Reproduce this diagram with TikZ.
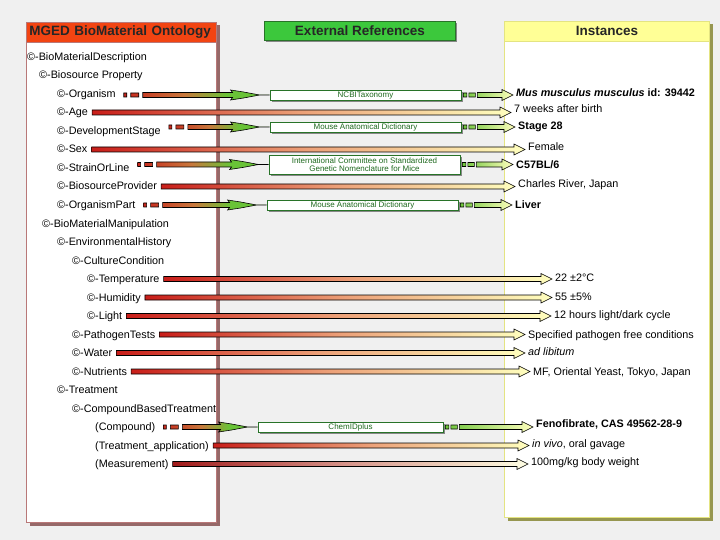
\documentclass[tikz,border=0pt]{standalone}
\usepackage{fontspec}
\setmainfont{Liberation Sans}
\usetikzlibrary{calc, shadows}
\definecolor{pageGrey}{RGB}{240,240,240}
\definecolor{ontoRed}{RGB}{242,68,18}
\definecolor{ontoEdge}{RGB}{185,120,120}
\definecolor{ontoShade}{RGB}{150,105,105}
\definecolor{refGreen}{RGB}{60,200,60}
\definecolor{refEdge}{RGB}{40,115,40}
\definecolor{refText}{RGB}{30,105,30}
\definecolor{instYellow}{RGB}{255,255,150}
\definecolor{instEdge}{RGB}{228,228,130}
\definecolor{instShade}{RGB}{150,150,80}
\definecolor{boxShade}{RGB}{135,135,135}
\definecolor{barRed}{RGB}{200,28,24}
\definecolor{barSalmon}{RGB}{236,160,120}
\definecolor{barPale}{RGB}{255,255,190}
\definecolor{barGreen}{RGB}{105,195,55}
\definecolor{barBrown}{RGB}{200,120,60}
\definecolor{measRed}{RGB}{160,25,25}
\definecolor{measPink}{RGB}{215,150,140}
\definecolor{measPale}{RGB}{255,255,228}
\pgfdeclarehorizontalshading{redtogreen}{100bp}{color(0bp)=(barRed); color(25bp)=(barRed); color(47bp)=(barBrown); color(61bp)=(barGreen); color(100bp)=(barGreen)}

\begin{document}
\begin{tikzpicture}[
    x=1pt, y=-1pt,
    panel/.style={rectangle, draw, fill=white, line width=1pt, anchor=north west, inner sep=0pt},
    header/.style={rectangle, draw, line width=0.8pt, anchor=north west, minimum height=20, inner sep=0pt, font=\fontsize{13.5}{15}\selectfont\bfseries, text=black!85},
    hardshadow/.style={drop shadow={fill=#1, opacity=1, shadow xshift=3pt, shadow yshift=-3pt}},
    extref/.style={rectangle, draw=refEdge, fill=white, line width=0.8pt, minimum width=191, minimum height=10, inner sep=0pt, text height=6pt, text depth=1.2pt, font=\fontsize{8}{8.5}\selectfont, text=refText, drop shadow={fill=boxShade, opacity=1, shadow xshift=2pt, shadow yshift=-2pt}},
    term/.style={anchor=west, inner sep=1pt, text height=8.5pt, text depth=1.5pt, font=\fontsize{10.8}{12}\selectfont},
    inst/.style={term},
    plainbar/.style={line width=0.6pt, draw=black, left color=barRed, right color=barPale, middle color=barSalmon,
        to path={let \p1=(\tikztostart), \p2=(\tikztotarget) in
            (\x1+3pt,\y1-2.5pt) -- (\x2-13pt,\y1-2.5pt) -- (\x2-13pt,\y1-5.5pt) -- (\x2-2pt,\y1)
            -- (\x2-13pt,\y1+5.5pt) -- (\x2-13pt,\y1+2.5pt) -- (\x1+3pt,\y1+2.5pt) -- cycle}},
    refin/.style={line width=0.6pt, draw=black, shade, shading=redtogreen, shading angle=0,
        to path={let \p1=(\tikztostart), \p2=(\tikztotarget) in
            (\x1+7pt,\y2-2pt) rectangle (\x1+10pt,\y2+2pt)
            (\x1+14pt,\y2-2pt) rectangle (\x1+22pt,\y2+2pt)
            (\x1+26pt,\y2-2.5pt) -- (\x2-37pt,\y2-2.5pt) -- (\x2-39pt,\y2-5pt) -- (\x2-26pt,\y2-3pt)
            -- (\x2-10pt,\y2) -- (\x2-26pt,\y2+3pt) -- (\x2-39pt,\y2+5pt) -- (\x2-37pt,\y2+2.5pt)
            -- (\x1+26pt,\y2+2.5pt) -- cycle
            (\x2-10pt,\y2) -- (\x2,\y2)}},
    refout/.style={line width=0.6pt, draw=black, left color=barGreen, right color=barPale,
        to path={let \p1=(\tikztostart), \p2=(\tikztotarget) in
            (\x1+2pt,\y1-2pt) rectangle (\x1+5.5pt,\y1+2pt)
            (\x1+7.5pt,\y1-2pt) rectangle (\x1+14pt,\y1+2pt)
            (\x1+16pt,\y1-2.5pt) -- (\x2-13pt,\y1-2.5pt) -- (\x2-13pt,\y1-5.5pt) -- (\x2-2pt,\y1)
            -- (\x2-13pt,\y1+5.5pt) -- (\x2-13pt,\y1+2.5pt) -- (\x1+16pt,\y1+2.5pt) -- cycle}}
]

\fill[pageGrey] (0,0) rectangle (720,540);
\useasboundingbox (0,0) rectangle (720,540);

% Panels
\node[panel, draw=ontoEdge, minimum width=190, minimum height=500, hardshadow=ontoShade] (ontology) at (26,22) {};
\node[panel, draw=instEdge, minimum width=205, minimum height=496, hardshadow=instShade] (instances) at (504,21) {};
\node[header, fill=ontoRed, draw=ontoEdge, minimum width=190, text width=184, inner xsep=3pt, align=left] (ontotitle) at (26,22) {MGED BioMaterial Ontology};
\node[header, fill=refGreen, draw=refEdge, minimum width=191, minimum height=19, drop shadow={fill=boxShade, opacity=1, shadow xshift=2pt, shadow yshift=-2pt}] (reftitle) at (264,21) {External References};
\node[header, fill=instYellow, draw=instEdge, minimum width=205] (insttitle) at (504,21) {Instances};

% Ontology terms
\node[term] (desc) at (26,57) {©-BioMaterialDescription};
\node[term] (bsprop) at (38,75.5) {©-Biosource Property};
\node[term] (organism) at (56,94) {©-Organism};
\node[term] (age) at (56,112.5) {©-Age};
\node[term] (devstage) at (56,131) {©-DevelopmentStage};
\node[term] (sex) at (56,149.5) {©-Sex};
\node[term] (strain) at (56,168) {©-StrainOrLine};
\node[term] (provider) at (56,186.5) {©-BiosourceProvider};
\node[term] (orgpart) at (56,205) {©-OrganismPart};
\node[term] (manip) at (41,223.5) {©-BioMaterialManipulation};
\node[term] (envhist) at (56,242) {©-EnvironmentalHistory};
\node[term] (culture) at (71,260.5) {©-CultureCondition};
\node[term] (temp) at (86,279) {©-Temperature};
\node[term] (humidity) at (86,297.5) {©-Humidity};
\node[term] (light) at (86,316) {©-Light};
\node[term] (pathogen) at (71,334.5) {©-PathogenTests};
\node[term] (water) at (71,353) {©-Water};
\node[term] (nutrients) at (71,371.5) {©-Nutrients};
\node[term] (treatment) at (56,390) {©-Treatment};
\node[term] (cbt) at (71,408.5) {©-CompoundBasedTreatment};
\node[term] (compound) at (94,427) {(Compound)};
\node[term] (application) at (94,445.5) {(Treatment\_application)};
\node[term] (measurement) at (94,464) {(Measurement)};

% External references
\node[extref] (ncbi) at (365.5,95) {NCBITaxonomy};
\node[extref] (mad1) at (365.5,127) {Mouse Anatomical Dictionary};
\node[extref, minimum height=19, text height=, text depth=, align=center] (icsgn) at (364.5,164.5) {International Committee on Standardized\\Genetic Nomenclature for Mice};
\node[extref] (mad2) at (362.5,205) {Mouse Anatomical Dictionary};
\node[extref, minimum width=185] (chem) at (350.5,427) {ChemIDplus};

% Instances
\node[inst] (iorg) at (515,93) {\textbf{\textit{Mus musculus musculus}} \textbf{id: 39442}};
\node[inst] (iage) at (513,109) {7 weeks after birth};
\node[inst] (idev) at (517,126) {\textbf{Stage 28}};
\node[inst] (isex) at (527,147) {Female};
\node[inst] (istrain) at (515,165) {\textbf{C57BL/6}};
\node[inst] (iprov) at (517,184) {Charles River, Japan};
\node[inst] (ipart) at (514,205) {\textbf{Liver}};
\node[inst] (itemp) at (554,278) {22 ±2°C};
\node[inst] (ihum) at (554,297) {55 ±5\%};
\node[inst] (ilight) at (553,315) {12 hours light/dark cycle};
\node[inst] (ipatho) at (527,335) {Specified pathogen free conditions};
\node[inst] (iwater) at (527,352) {\textit{ad libitum}};
\node[inst] (inutr) at (532,372) {MF, Oriental Yeast, Tokyo, Japan};
\node[inst] (icomp) at (535,424) {\textbf{Fenofibrate, CAS 49562-28-9}};
\node[inst] (iappl) at (531,444) {\textit{in vivo}, oral gavage};
\node[inst] (imeas) at (530,462) {100mg/kg body weight};

% Links through external references
\draw[refin] (organism.east) to (ncbi.west);
\draw[refout] (ncbi.east) to (iorg.west);
\draw[refin] (devstage.east) to (mad1.west);
\draw[refout] (mad1.east) to (idev.west);
\draw[refin] (strain.east) to (icsgn.west);
\draw[refout] (icsgn.east) to (istrain.west);
\draw[refin] (orgpart.east) to (mad2.west);
\draw[refout] (mad2.east) to (ipart.west);
\draw[refin] (compound.east) to (chem.west);
\draw[refout] (chem.east) to (icomp.west);

% Direct links
\draw[plainbar] (age.east) to (iage.west);
\draw[plainbar] (sex.east) to (isex.west);
\draw[plainbar] (provider.east) to (iprov.west);
\draw[plainbar] (temp.east) to (itemp.west);
\draw[plainbar] (humidity.east) to (ihum.west);
\draw[plainbar] (light.east) to (ilight.west);
\draw[plainbar] (pathogen.east) to (ipatho.west);
\draw[plainbar] (water.east) to (iwater.west);
\draw[plainbar] (nutrients.east) to (inutr.west);
\draw[plainbar] (application.east) to (iappl.west);
\draw[plainbar, left color=measRed, right color=measPale, middle color=measPink] (measurement.east) to (imeas.west);

\end{tikzpicture}
\end{document}
